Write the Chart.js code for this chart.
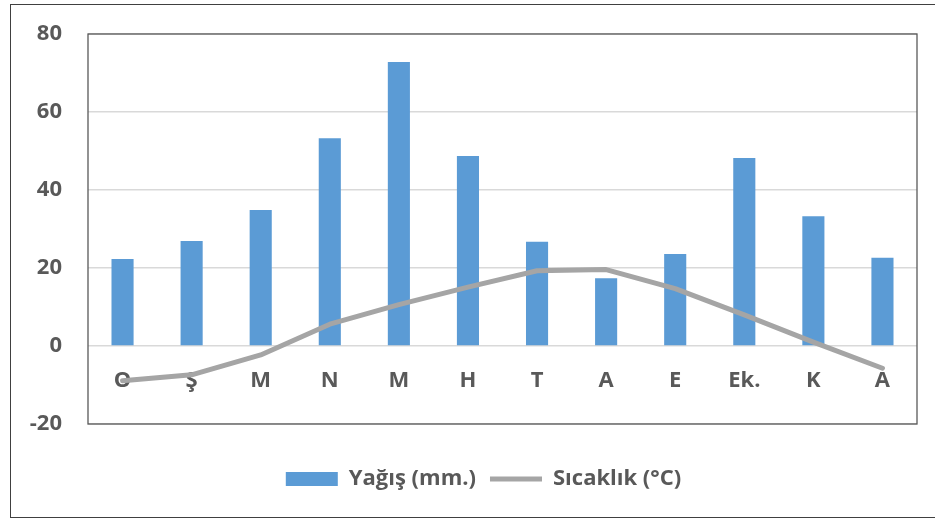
<!DOCTYPE html>
<html>
<head>
<meta charset="utf-8">
<script src="https://cdn.jsdelivr.net/npm/chart.js@4"></script>
<style>
  html, body { margin: 0; padding: 0; background: #fff; }
  body { width: 935px; height: 518px; position: relative; overflow: hidden; }
  #frame {
    position: absolute; left: 10px; top: 4px; width: 940px; height: 512px;
    border-left: 1.5px solid #404040; border-top: 1.5px solid #404040; border-bottom: 1.5px solid #404040;
  }
  #wrap { position: absolute; left: 0; top: 0; width: 935px; height: 518px; }
</style>
</head>
<body>
<div id="frame"></div>
<div id="wrap"><canvas id="chart" width="935" height="518"></canvas></div>
<script>
  const months = ['O', 'Ş', 'M', 'N', 'M', 'H', 'T', 'A', 'E', 'Ek.', 'K', 'A'];
  const rainfall = [22.3, 26.9, 34.9, 53.3, 72.8, 48.7, 26.7, 17.4, 23.6, 48.2, 33.3, 22.6];
  const temperature = [-8.9, -7.4, -2.3, 5.6, 10.6, 15.1, 19.3, 19.6, 14.7, 8.0, 1.0, -5.7];
  const yTicks = [-20, 0, 20, 40, 60, 80];

  const textColor = '#595959';
  const fontFamily = '"Open Sans", Lato, sans-serif';
  const labelFont = { family: fontFamily, size: 22, weight: 'bold' };

  // dark box around the plot area
  const plotBorder = {
    id: 'plotBorder',
    beforeDatasetsDraw(chart) {
      const a = chart.chartArea;
      const ctx = chart.ctx;
      ctx.save();
      ctx.strokeStyle = '#595959';
      ctx.lineWidth = 1.3;
      ctx.strokeRect(a.left, a.top, a.right - a.left, a.bottom - a.top);
      ctx.restore();
    }
  };

  // legend sits a bit right of the canvas centre in the original
  const legendShift = {
    id: 'legendShift',
    afterLayout(chart) {
      chart.legend.left += 25;
      chart.legend.right += 25;
    }
  };

  new Chart(document.getElementById('chart'), {
    data: {
      labels: months,
      datasets: [
        {
          type: 'bar',
          label: 'Yağış (mm.)',
          data: rainfall,
          backgroundColor: '#5b9bd5',
          borderWidth: 0,
          barPercentage: 0.32,
          categoryPercentage: 1,
          pointStyle: 'rect',
          order: 1
        },
        {
          type: 'line',
          label: 'Sıcaklık (°C)',
          data: temperature,
          borderColor: '#a5a5a5',
          backgroundColor: '#a5a5a5',
          borderWidth: 5,
          borderCapStyle: 'round',
          borderJoinStyle: 'round',
          pointRadius: 0,
          pointStyle: 'line',
          tension: 0,
          order: 0
        }
      ]
    },
    options: {
      responsive: false,
      animation: false,
      layout: { padding: { left: 0, right: 18, top: 34, bottom: 18 } },
      scales: {
        x: {
          type: 'category',
          position: { y: 0 },
          grid: { display: false },
          border: { display: false },
          ticks: {
            color: textColor,
            font: labelFont,
            padding: 14,
            autoSkip: false,
            maxRotation: 0
          }
        },
        xs: {
          type: 'category',
          position: 'bottom',
          grid: { display: false },
          border: { display: false },
          ticks: { display: false },
          afterFit(s) { s.height = 30; }
        },
        y: {
          min: -20,
          max: 80,
          afterBuildTicks(s) { s.ticks = yTicks.map(v => ({ value: v })); },
          grid: { color: '#d9d9d9', lineWidth: 1.5, drawTicks: true, tickLength: 26, tickColor: 'rgba(0,0,0,0)' },
          border: { display: false },
          ticks: {
            color: textColor,
            font: labelFont,
            padding: 0
          },
          afterFit(s) { s.width = 88; }
        }
      },
      plugins: {
        tooltip: { enabled: false },
        legend: {
          position: 'bottom',
          labels: {
            color: textColor,
            font: labelFont,
            usePointStyle: true,
            pointStyleWidth: 52,
            boxHeight: 14,
            padding: 14,
            sort: (a, b) => a.datasetIndex - b.datasetIndex
          }
        }
      }
    },
    plugins: [plotBorder, legendShift]
  });
</script>
</body>
</html>
